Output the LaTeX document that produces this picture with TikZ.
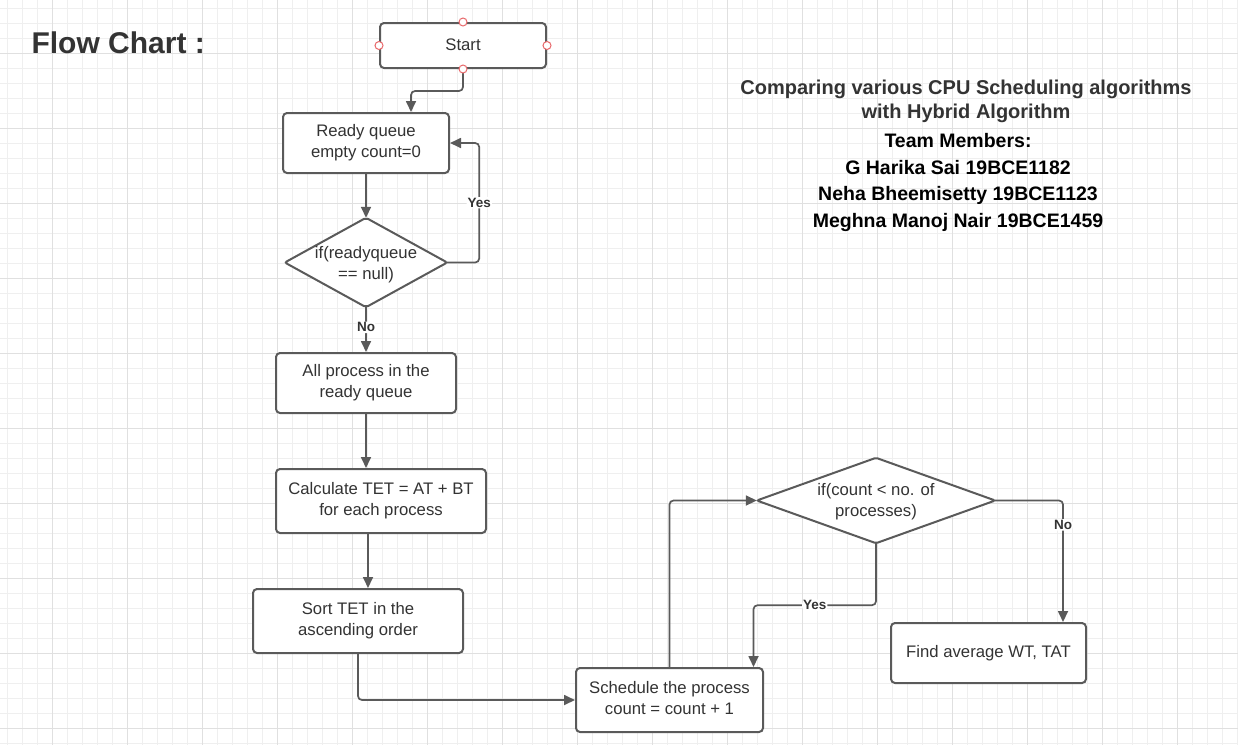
\documentclass[tikz,border=0pt]{standalone}
\usepackage{fontspec}
\setmainfont{Liberation Sans}
\usetikzlibrary{arrows.meta,calc}
\definecolor{edge}{HTML}{5A5A5A}
\definecolor{txt}{HTML}{333333}
\definecolor{gminor}{HTML}{EFEFEF}
\definecolor{gmajor}{HTML}{E0E0E0}
\definecolor{pin}{HTML}{E8686B}
\tikzset{
  box/.style={draw=edge, line width=2pt, rounded corners=4pt, fill=white, text=txt,
    align=center, inner sep=0pt, font=\fontsize{16.7}{20.5}\selectfont},
  dtext/.style={inner sep=0pt, text=txt, align=center, font=\fontsize{16.7}{20.5}\selectfont},
  dshape/.style={draw=edge, line width=2pt, fill=white, rounded corners=2pt},
  arr/.style={draw=edge, line width=1.7pt, rounded corners=4pt, -{Triangle[length=11pt,width=10pt]}},
  lbl/.style={fill=white, inner sep=1pt, text=txt, font=\fontsize{13.5}{15}\selectfont\bfseries},
  pinc/.style={circle, draw=pin, fill=white, line width=1pt, minimum size=8pt, inner sep=0pt},
  title/.style={text=txt, font=\fontsize{30}{34}\selectfont\bfseries, anchor=base west},
  info/.style={font=\fontsize{19.5}{24}\selectfont\bfseries, anchor=base},
}
\begin{document}
\begin{tikzpicture}[x=1pt,y=-1pt]
\useasboundingbox (0,0) rectangle (1238,745);
\fill[white] (0,0) rectangle (1238,745);
% grid
\foreach \k in {0,...,82} {
  \draw[gminor, line width=0.8pt] ({7+15*\k},0) -- ({7+15*\k},745);
}
\foreach \k in {0,...,49} {
  \draw[gminor, line width=0.8pt] (0,{8+15*\k}) -- (1238,{8+15*\k});
}
\foreach \k in {0,...,16} {
  \draw[gmajor, line width=0.8pt] ({52+75*\k},0) -- ({52+75*\k},745);
}
\foreach \k in {0,...,9} {
  \draw[gmajor, line width=0.8pt] (0,{53+75*\k}) -- (1238,{53+75*\k});
}

% titles
\node[title] (title) at (28,53) {Flow Chart :};
\node[info, text=txt, font=\fontsize{20}{24}\selectfont\bfseries] (t1) at (966,94) {Comparing various CPU Scheduling algorithms};
\node[info, text=txt, font=\fontsize{20}{24}\selectfont\bfseries] (t2) at (966,118) {with Hybrid Algorithm};
\node[info, text=black] (t3) at (958,147) {Team Members:};
\node[info, text=black] (t4) at (958,174) {G Harika Sai 19BCE1182};
\node[info, text=black] (t5) at (958,200) {Neha Bheemisetty 19BCE1123};
\node[info, text=black] (t6) at (958,227) {Meghna Manoj Nair 19BCE1459};

% node frames
\node[box, minimum width=166pt, minimum height=45pt] (start) at (463,45.5) {\raisebox{1.5pt}{Start}};
\node[box, minimum width=166pt, minimum height=60pt] (ready) at (366,143) {Ready queue\\empty count=0\rule[-4pt]{0pt}{1pt}};
\node[minimum width=162pt, minimum height=89pt, inner sep=0pt] (d1) at (366,262.5) {};
\node[box, minimum width=180pt, minimum height=60pt] (allp) at (366,383) {All process in the\\ready queue\rule[-4pt]{0pt}{1pt}};
\node[box, minimum width=210pt, minimum height=64pt] (calc) at (381,501) {Calculate TET = AT + BT\\for each process\rule[-4pt]{0pt}{1pt}};
\node[box, minimum width=210pt, minimum height=64pt] (sort) at (358,621) {Sort TET in the\\ascending order\rule[-4pt]{0pt}{1pt}};
\node[box, minimum width=187pt, minimum height=64pt] (sched) at (669.5,700) {Schedule the process\\count = count + 1\rule[-4pt]{0pt}{1pt}};
\node[minimum width=238pt, minimum height=85pt, inner sep=0pt] (d2) at (876,500.5) {};
\node[box, minimum width=195pt, minimum height=60pt] (find) at (988.5,653) {\raisebox{1.5pt}{Find average WT, TAT}};

% diamonds
\draw[dshape] (d1.north) -- (d1.east) -- (d1.south) -- (d1.west) -- cycle;
\draw[dshape] (d2.north) -- (d2.east) -- (d2.south) -- (d2.west) -- cycle;
\node[dtext] (d1t) at ([yshift=-2pt]d1.center) {if(readyqueue\\== null)};
\node[dtext] (d2t) at ([yshift=-1pt]d2.center) {if(count < no. of\\processes)};

% connectors
\draw[arr] (start.south) -- ++(0,22) -| ([xshift=45pt]ready.north);
\draw[arr] (ready.south) -- (d1.north);
\draw[arr] (d1.east) -- ++(32,0) |- (ready.east) node[lbl, pos=0.25] (yes1) {Yes};
\draw[arr] (d1.south) -- (allp.north) node[lbl, pos=0.45] (no1) {No};
\draw[arr] (allp.south) -- (allp.south |- calc.north);
\draw[arr] ([xshift=-13pt]calc.south) -- ([xshift=-13pt]calc.south |- sort.north);
\draw[arr] (sort.south) |- (sched.west);
\draw[arr] (sched.north) |- (d2.west);
\draw[arr] (d2.south) -- ++(0,62) -| ([xshift=84pt]sched.north) node[lbl, pos=0.25] (yes2) {Yes};
\draw[arr] (d2.east) -| ([xshift=74.5pt]find.north) node[lbl, pos=0.6] (no2) {No};

% connection pins on Start
\node[pinc] (p1) at (start.north) {};
\node[pinc] (p2) at (start.south) {};
\node[pinc] (p3) at (start.west) {};
\node[pinc] (p4) at (start.east) {};
\end{tikzpicture}
\end{document}
